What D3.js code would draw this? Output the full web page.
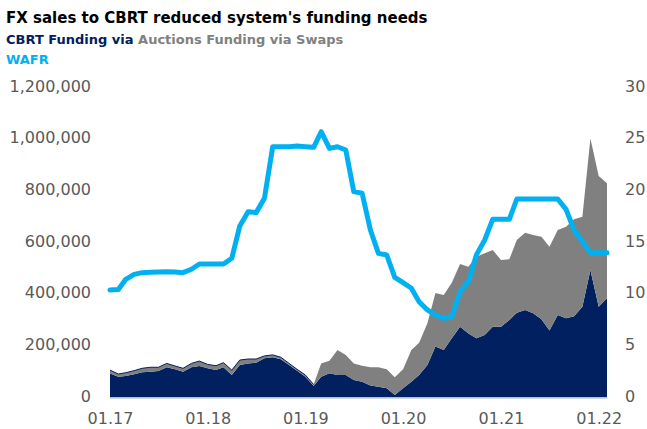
<!DOCTYPE html>
<html>
<head>
<meta charset="utf-8">
<script src="https://cdn.jsdelivr.net/npm/d3@7"></script>
<style>
  html, body { margin: 0; padding: 0; background: #fff; }
  svg { display: block; font-family: "DejaVu Sans", Verdana, sans-serif; }
</style>
</head>
<body>
<svg id="chart" width="647" height="429"></svg>
<script>
// Monthly observations, January 2017 to February 2022
const months = d3.timeMonth.range(new Date(2017, 0, 1), new Date(2022, 2, 1));

// CBRT funding via auctions (TRY mn)
const auctions = [
   93,  80,  83,  90,  98, 100, 103, 117, 109, 100, 117, 122,
  113, 106, 117,  87, 126, 132, 135, 152, 156, 148, 126, 104,
   80,  45,  80,  94,  87,  87,  68,  61,  46,  42,  36,  10,
   36,  61,  87, 126, 197, 184, 229, 274, 248, 229, 242, 274,
  274, 300, 328, 339, 326, 303, 259, 319, 307, 315, 351, 494,
  351, 384
].map(v => v * 1000);

// Funding via swaps (TRY mn)
const swaps = [
   13,  11,  13,  14,  15,  17,  14,  15,  13,  13,  15,  19,
   15,  17,  18,  19,  19,  17,  14,   9,   9,   8,   6,   5,
    7,   5,  52,  48,  97,  78,  64,  62,  71,  75,  73,  68,
   73, 123, 125, 161, 208, 213, 215, 243, 258, 316, 316, 297,
  258, 235, 282, 299, 303, 319, 325, 329, 354, 375, 349, 509,
  506, 445
].map(v => v * 1000);

// Weighted average funding rate (%)
const wafr = [
  10.40, 10.45, 11.44, 11.92, 12.08, 12.11, 12.15, 12.18, 12.15, 12.08, 12.41, 12.92,
  12.92, 12.92, 12.92, 13.47, 16.60, 17.98, 17.89, 19.28, 24.27, 24.27, 24.27, 24.34,
  24.27, 24.21, 25.72, 24.11, 24.27, 23.95, 19.92, 19.76, 16.21, 13.95, 13.79, 11.63,
  11.11, 10.57,  9.27,  8.47,  7.98,  7.66,  7.82, 10.24, 11.21, 13.80, 15.24, 17.24,
  17.24, 17.24, 19.21, 19.21, 19.21, 19.21, 19.21, 19.21, 18.21, 16.21, 15.08, 14.01,
  14.01, 14.01
];

const leftTicks = [0, 200000, 400000, 600000, 800000, 1000000, 1200000];
const rightTicks = [0, 5, 10, 15, 20, 25, 30];
const xTickLabels = ["01.17", "01.18", "01.19", "01.20", "01.21", "01.22"];

const colors = { auctions: "#002060", swaps: "#808080", wafr: "#00B0F0", axis: "#595959" };

const svg = d3.select("#chart");

const rows = months.map((m, i) => ({ date: m, auctions: auctions[i], swaps: swaps[i], wafr: wafr[i] }));

const x = d3.scaleTime().domain(d3.extent(months)).range([110, 607]);
const yL = d3.scaleLinear().domain([0, 1200000]).range([397.5, 87.5]);
const yR = d3.scaleLinear().domain([0, 30]).range([397.5, 87.5]);

// Stacked areas
const stacked = d3.stack().keys(["auctions", "swaps"])(rows);
const area = d3.area()
  .x(d => x(d.data.date))
  .y0(d => yL(d[0]))
  .y1(d => yL(d[1]));

svg.append("g").selectAll("path")
  .data(stacked)
  .join("path")
  .attr("d", area)
  .attr("fill", d => colors[d.key]);

// thin dark edge over the stack while swap volumes were negligible
const edge = d3.line()
  .defined((d, i) => i <= 25)
  .x(d => x(d.date))
  .y(d => yL(d.auctions + d.swaps));
svg.append("path")
  .attr("d", edge(rows))
  .attr("fill", "none")
  .attr("stroke", colors.auctions)
  .attr("stroke-width", 1);

// Bottom axis
const janTicks = months.filter(m => m.getMonth() === 0);
const xAxis = d3.axisBottom(x)
  .tickValues(janTicks)
  .tickFormat((d, i) => xTickLabels[i])
  .tickSize(0)
  .tickSizeOuter(0)
  .tickPadding(15.5);
const gx = svg.append("g").attr("transform", "translate(0,397.5)").call(xAxis);
gx.select(".domain").attr("stroke", "#c5ccd6").attr("stroke-width", 1.6);
gx.selectAll("text").attr("fill", colors.axis).style("font-size", "16px").style("font-family", "DejaVu Sans, Verdana, sans-serif");

// Left axis
const yAxisL = d3.axisLeft(yL).tickValues(leftTicks).tickFormat(d3.format(",")).tickSize(0).tickPadding(0);
const gl = svg.append("g").attr("transform", "translate(91,0)").call(yAxisL);
gl.select(".domain").remove();
gl.selectAll("text").attr("fill", colors.axis).attr("dy", "0.22em").style("font-size", "16px").style("font-family", "DejaVu Sans, Verdana, sans-serif");

// Right axis
const yAxisR = d3.axisRight(yR).tickValues(rightTicks).tickSize(0).tickPadding(0);
const gr = svg.append("g").attr("transform", "translate(625,0)").call(yAxisR);
gr.select(".domain").remove();
gr.selectAll("text").attr("fill", colors.axis).attr("dy", "0.22em").style("font-size", "16px").style("font-family", "DejaVu Sans, Verdana, sans-serif");

// WAFR line
const line = d3.line().x(d => x(d.date)).y(d => yR(d.wafr));
svg.append("path")
  .attr("d", line(rows))
  .attr("fill", "none")
  .attr("stroke", colors.wafr)
  .attr("stroke-width", 5)
  .attr("stroke-linejoin", "round")
  .attr("stroke-linecap", "round");

// Title and legend text
svg.append("text")
  .attr("x", 6).attr("y", 23)
  .attr("font-weight", "bold").attr("font-size", 15).attr("fill", "#000")
  .text("FX sales to CBRT reduced system's funding needs");

const legend = svg.append("text")
  .attr("x", 6).attr("y", 44)
  .attr("font-weight", "bold").attr("font-size", 13);
legend.append("tspan").attr("fill", colors.auctions).text("CBRT Funding via ");
legend.append("tspan").attr("fill", colors.swaps).text("Auctions Funding via Swaps");

svg.append("text")
  .attr("x", 6).attr("y", 64)
  .attr("font-weight", "bold").attr("font-size", 13).attr("fill", colors.wafr)
  .text("WAFR");
</script>
</body>
</html>
